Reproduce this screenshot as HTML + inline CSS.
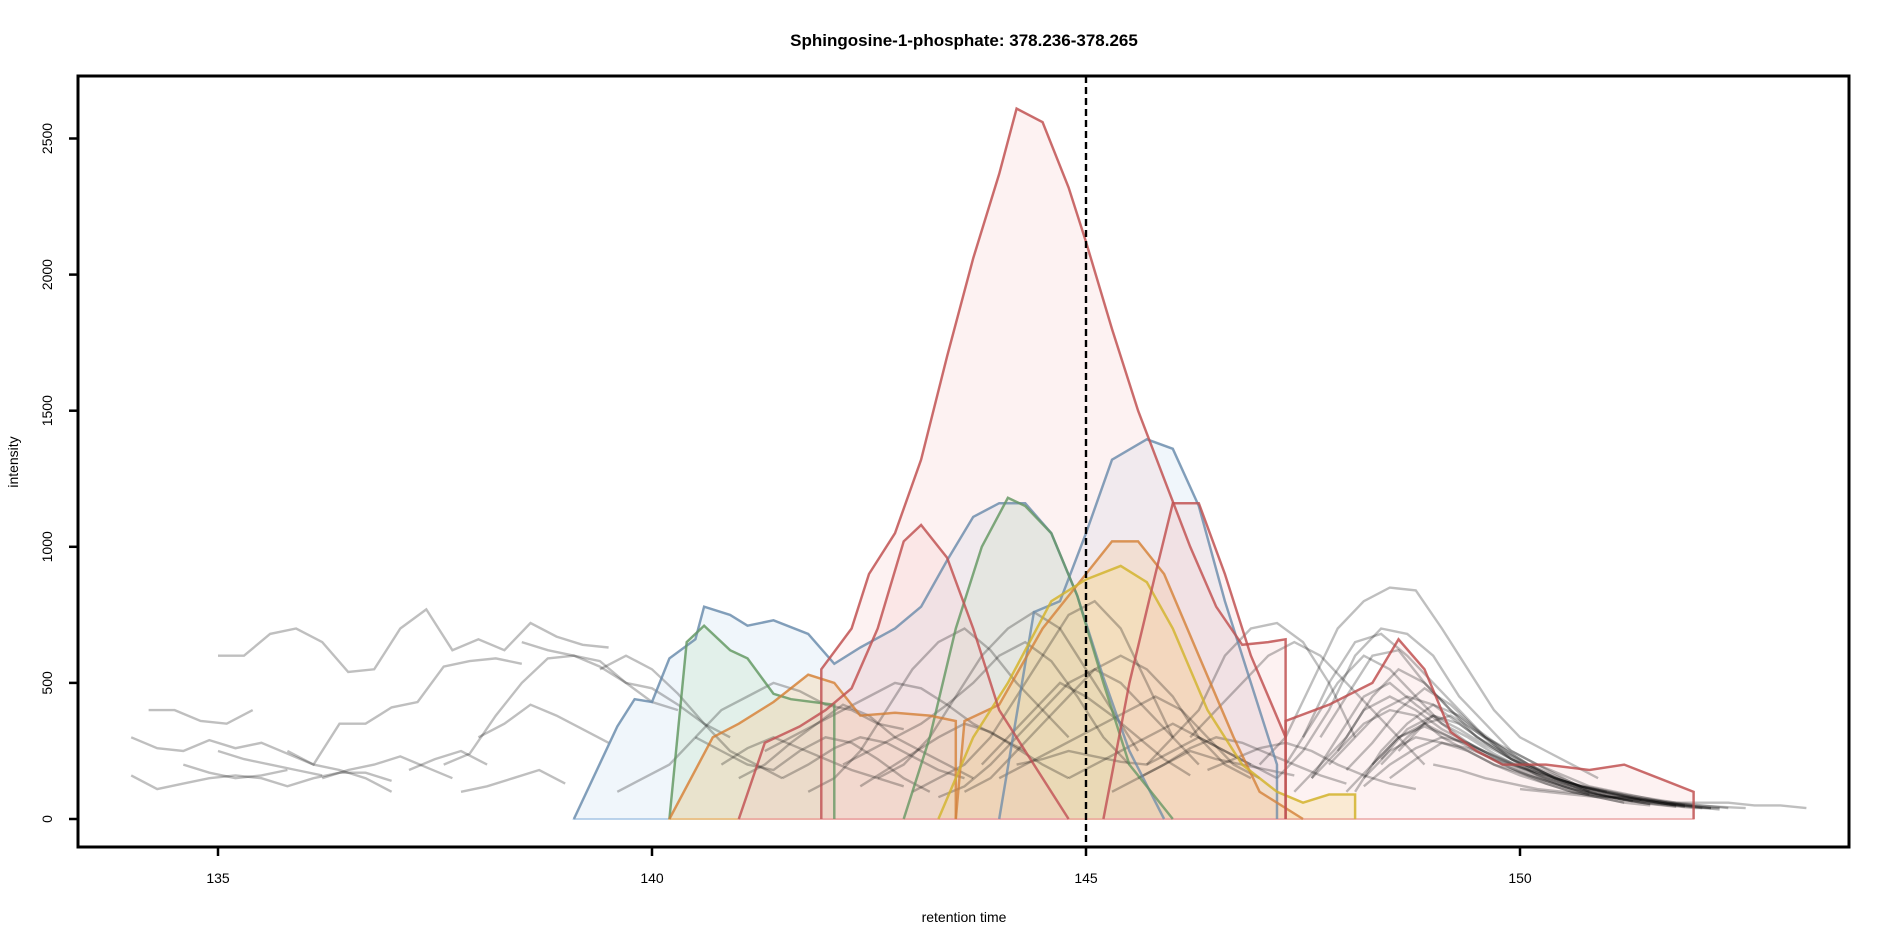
<!DOCTYPE html>
<html><head><meta charset="utf-8"><style>
body{margin:0;background:#fff;}
svg{display:block;font-family:"Liberation Sans",sans-serif;}
</style></head><body>
<svg id="chart" width="1889" height="944">
<text x="964" y="46" text-anchor="middle" font-weight="bold" font-size="17">Sphingosine-1-phosphate: 378.236-378.265</text>
<text x="964" y="922" text-anchor="middle" font-size="14">retention time</text>
<text transform="translate(18,462) rotate(-90)" text-anchor="middle" font-size="14">intensity</text>
<g id="marks"></g>
<g id="axes"></g>
</svg>
<script>
const xTicks=[135,140,145,150];
const yTicks=[0,500,1000,1500,2000,2500];
const markerRT=145;
const step=0.3;
const peakColors=['blue','blue','green','green','orange','orange','yellow','red','red','red','red'];
const peakTimes=[
[139.1,139.6,139.8,140.0,140.2,140.5,140.6,140.9,141.1,141.4,141.8,142.1,142.4,142.8,143.1,143.4,143.7,144.0,144.3,144.6,144.9,145.2,145.5,145.9],
[144.0,144.4,144.7,145.0,145.3,145.7,146.0,146.3,146.6,146.9,147.2,147.2],
[140.2,140.4,140.6,140.9,141.1,141.4,141.6,142.1,142.1],
[142.9,143.2,143.5,143.8,144.1,144.3,144.6,144.9,145.2,145.5,146.0],
[140.2,140.7,141.0,141.4,141.8,142.1,142.4,142.8,143.2,143.5,143.5],
[143.5,143.6,144.0,144.5,145.0,145.3,145.6,145.9,146.3,146.7,147.0,147.5],
[143.3,143.7,144.1,144.6,145.0,145.4,145.7,146.0,146.4,146.8,147.2,147.5,147.8,148.1,148.1],
[141.0,141.3,141.7,142.0,142.3,142.6,142.9,143.1,143.4,143.7,144.0,144.4,144.8],
[141.95,141.95,142.3,142.5,142.8,143.1,143.4,143.7,144.0,144.2,144.5,144.8,145.0,145.3,145.6,145.9,146.2,146.5,146.8,147.1,147.3,147.3],
[145.2,145.5,145.8,146.0,146.3,146.6,146.9,147.1,147.3],
[147.3,147.3,147.8,148.3,148.6,148.9,149.2,149.5,149.8,150.3,150.8,151.2,151.6,152.0,152.0]
];
const peakValues=[
[0,340,440,430,590,660,780,750,710,730,680,570,630,700,780,950,1110,1160,1160,1050,820,520,250,0],
[0,760,800,1050,1320,1395,1360,1150,800,500,200,0],
[0,650,710,620,590,460,440,420,0],
[0,300,700,1000,1180,1150,1050,820,500,200,0],
[0,300,350,430,530,500,380,390,380,360,0],
[0,360,420,700,900,1020,1020,900,600,300,100,0],
[0,300,500,800,880,930,870,700,400,200,100,60,90,90,0],
[0,280,340,400,480,700,1020,1080,960,700,400,200,0],
[0,550,700,900,1050,1320,1700,2060,2370,2610,2560,2320,2120,1800,1500,1250,1000,780,640,650,660,0],
[0,500,900,1160,1160,900,600,450,300],
[0,360,420,500,660,550,320,250,200,200,180,200,150,100,0]
];
const greyStart=[135.0,134.0,134.2,134.0,135.8,137.6,138.5,139.4,139.6,140.5,141.0,141.3,141.8,142.2,142.6,143.0,143.3,143.6,144.0,144.2,144.8,145.3,145.7,146.2,147.0,147.2,147.4,147.6,147.8,148.0,148.2,147.5,148.4,148.6,137.2,137.8,149.0,150.0,
147.3,147.6,147.9,148.1,148.3,148.5,147.7,148.0,148.2,148.4,140.8,141.5,142.4,143.8,145.6,146.4,138.0,136.2,135.0,134.6];
const greyValues=[
[600,600,680,700,650,540,550,700,770,620,660,620,720,670,640,630],
[300,260,250,290,260,280,240,200,180,150,100],
[400,400,360,350,400],
[160,110,130,150,160,150,120,150,170,170,140],
[250,200,350,350,410,430,560,580,590,570],
[200,240,380,500,590,600,580,500,430,400],
[650,620,600,560,500,480,420,350,300],
[550,600,550,460,350,250,200,150],
[100,150,200,300,400,450,500,470,420,400,350,330],
[300,250,200,180,250,300,280,220,150,100],
[150,200,280,350,420,380,300,250,200,150],
[250,300,350,400,450,500,480,420,350,300,250],
[100,150,250,400,550,650,700,620,500,400,300],
[200,250,300,350,420,500,600,650,580,450,300,200],
[150,200,300,450,600,700,760,700,550,400,250],
[100,150,200,300,450,600,750,800,700,500,300],
[80,120,200,300,400,500,550,500,400,300,200],
[100,150,250,350,450,550,600,550,450,300,200,150],
[150,200,250,300,350,400,450,400,300,200,150],
[200,220,250,230,210,200,250,300,250,200],
[150,200,250,300,350,300,250,200,150],
[100,150,200,250,220,200,180,160],
[200,300,400,600,700,720,650,500,300],
[300,400,500,600,650,600,500,400,300,200],
[200,300,500,700,800,850,840,700,550,400,300,250,200,150],
[150,250,400,600,700,680,600,450,350,250,200,150,100],
[100,200,300,450,550,500,400,300,250,200,150,120,100],
[150,250,350,400,380,300,250,200,160,130,100,80,60],
[200,300,400,450,420,350,280,220,180,140,110,90,70],
[100,200,300,350,380,320,260,200,150,120,100,80,60,50],
[150,250,300,280,250,200,170,140,110,90,70,60,50],
[300,500,650,680,600,500,400,300,220,160,120,90],
[200,300,380,350,280,220,170,130,100,80,60,50,40,40],
[250,350,300,250,200,160,130,100,80,70,60,50,40],
[180,220,250,200],
[100,120,150,180,130],
[200,180,150,130,110,100,90,80,70,60,50,45,40],
[110,100,90,80,80,70,60,60,60,50,50,40],
[200,350,500,600,550,450,350,280,220,170,130,100,80,60,50],
[150,300,450,500,420,350,300,240,190,150,120,90,70,55],
[250,400,450,400,330,280,230,180,140,110,90,70,55,45],
[100,250,350,420,380,300,250,200,160,120,100,80,60,50],
[200,300,340,300,260,220,180,150,120,100,80,65,50,40],
[150,220,280,260,220,190,160,130,110,90,75,60,50,40],
[300,450,600,620,500,400,320,250,190,150,110,85,65],
[180,280,400,480,420,330,260,200,160,120,95,75,60,45],
[120,200,260,300,280,230,190,150,120,100,80,65,50,40],
[220,330,380,330,270,220,180,140,110,90,70,55,45,35],
[200,260,300,260,220,180,150,120],
[150,200,260,300,280,230,180,150],
[120,180,240,300,350,320,260,200,150],
[200,300,400,500,450,380,300,220,160],
[150,200,260,300,280,240,200,160,130],
[180,220,260,280,250,200,160,130,110],
[300,350,420,380,330,280],
[150,180,200,230,190,150],
[250,220,200,180,160],
[200,170,150,160,180]
];
const X0=78,X1=1849,Y0=76,Y1=847;
function xs(v){return 218+(v-135)*86.8;}
function ys(v){return 819-v*0.2722;}
const NS='http://www.w3.org/2000/svg';
const marks=document.getElementById('marks');
const axes=document.getElementById('axes');
function mk(tag,attrs,parent){const e=document.createElementNS(NS,tag);for(const k in attrs)e.setAttribute(k,attrs[k]);parent.appendChild(e);return e;}
const pal={blue:['rgba(200,222,240,0.28)','rgba(110,140,170,0.75)','rgba(170,200,230,0.8)'],green:['rgba(190,225,190,0.28)','rgba(100,150,100,0.75)','rgba(170,215,170,0.8)'],orange:['rgba(250,200,140,0.3)','rgba(210,130,60,0.75)','rgba(245,190,130,0.8)'],yellow:['rgba(245,225,130,0.3)','rgba(210,180,50,0.8)','rgba(240,220,120,0.8)'],red:['rgba(245,190,190,0.2)','rgba(190,80,80,0.75)','rgba(235,170,170,0.8)']};
peakTimes.forEach((ts,i)=>{
  const vs=peakValues[i];
  const pts=ts.map((t,j)=>xs(t).toFixed(1)+','+ys(vs[j]).toFixed(1));
  const c=pal[peakColors[i]];
  const poly=mk('polygon',{points:pts.join(' ')+' '+xs(ts[ts.length-1]).toFixed(1)+','+ys(0)+' '+xs(ts[0]).toFixed(1)+','+ys(0),fill:c[0],stroke:c[2],'stroke-width':2},marks);
  
  
});
greyValues.forEach((vs,i)=>{
  const pts=vs.map((v,j)=>xs(greyStart[i]+j*step).toFixed(1)+','+ys(v).toFixed(1));
  const pl=mk('polyline',{points:pts.join(' '),fill:'none',stroke:'rgba(0,0,0,0.25)','stroke-width':2.4},marks);
  
  
});
peakTimes.forEach((ts,i)=>{
  const vs=peakValues[i];
  const pts=ts.map((t,j)=>xs(t).toFixed(1)+','+ys(vs[j]).toFixed(1));
  const pl=mk('polyline',{points:pts.join(' '),fill:'none',stroke:pal[peakColors[i]][1],'stroke-width':2.5},marks);
  
  
});
const ml=mk('line',{x1:xs(markerRT),x2:xs(markerRT),y1:Y0,y2:Y1,stroke:'#000','stroke-width':2.4,'stroke-dasharray':'7,4'},axes);


const box=mk('rect',{x:X0,y:Y0,width:X1-X0,height:Y1-Y0,fill:'none',stroke:'#000','stroke-width':3},axes);


xTicks.forEach(t=>{
  const l=mk('line',{x1:xs(t),x2:xs(t),y1:Y1,y2:Y1+9,stroke:'#000','stroke-width':2.5},axes);
  
  
  const tx=mk('text',{x:xs(t),y:883,'text-anchor':'middle','font-size':14},axes);
  tx.textContent=t;
  
  
});
yTicks.forEach(t=>{
  const l=mk('line',{x1:X0-9,x2:X0,y1:ys(t),y2:ys(t),stroke:'#000','stroke-width':2.5},axes);
  
  
  const tx=mk('text',{transform:'translate(52,'+ys(t)+') rotate(-90)','text-anchor':'middle','font-size':14},axes);
  tx.textContent=t;
  
  
});
</script>
</body></html>
